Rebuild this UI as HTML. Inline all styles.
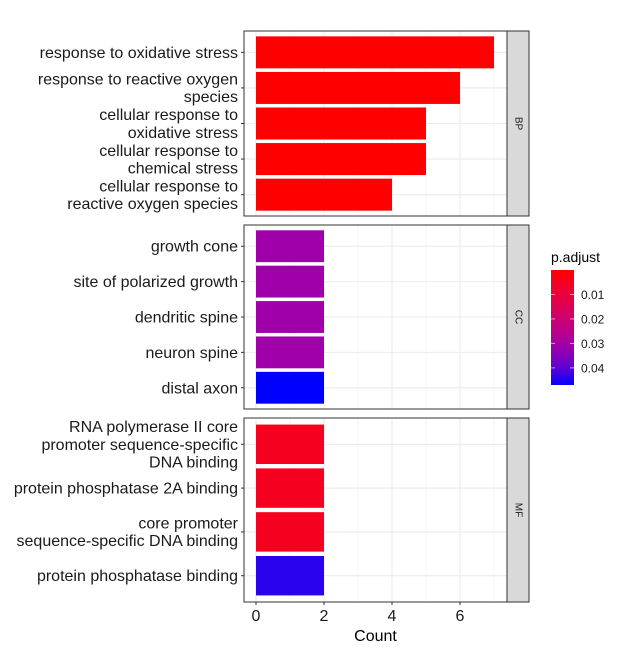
<!DOCTYPE html>
<html><head><meta charset="utf-8"><style>
body{margin:0;background:#fff}
svg{display:block;font-family:"Liberation Sans",sans-serif}
</style></head><body>
<svg id="chart" width="619" height="652"></svg>
<script>
const bpTerms=["response to oxidative stress","response to reactive oxygen|species","cellular response to|oxidative stress","cellular response to|chemical stress","cellular response to|reactive oxygen species"];
const bpCounts=[7,6,5,5,4];
const bpP=[0.0001,0.0001,0.0001,0.0001,0.0001];
const ccTerms=["growth cone","site of polarized growth","dendritic spine","neuron spine","distal axon"];
const ccCounts=[2,2,2,2,2];
const ccP=[0.031,0.031,0.031,0.031,0.047];
const mfTerms=["RNA polymerase II core|promoter sequence-specific|DNA binding","protein phosphatase 2A binding","core promoter|sequence-specific DNA binding","protein phosphatase binding"];
const mfCounts=[2,2,2,2];
const mfP=[0.005,0.005,0.005,0.044];
const xTicks=[0,2,4,6];
const legendTicks=[0.01,0.02,0.03,0.04];
const pMin=0.0, pMax=0.047;

const NS="http://www.w3.org/2000/svg";
const svg=document.getElementById('chart');
function el(tag,attrs,parent){const e=document.createElementNS(NS,tag);for(const k in attrs)e.setAttribute(k,attrs[k]);(parent||svg).appendChild(e);return e;}
const X0=244,X1=507;
const xScale=v=>256+v*34;
const stops=[[0,[255,0,0]],[0.21,[235,0,60]],[0.43,[205,0,112]],[0.64,[165,0,165]],[0.85,[100,0,210]],[1,[0,0,255]]];
function color(p){let t=(p-pMin)/(pMax-pMin);t=Math.max(0,Math.min(1,t));
 for(let i=1;i<stops.length;i++){if(t<=stops[i][0]){const a=stops[i-1],b=stops[i];const f=(t-a[0])/(b[0]-a[0]);
 const c=a[1].map((v,j)=>Math.round(v+(b[1][j]-v)*f));return `rgb(${c})`;}}return 'rgb(0,0,255)';}

const panels=[{name:"BP",terms:bpTerms,counts:bpCounts,p:bpP,y0:31,y1:216},
{name:"CC",terms:ccTerms,counts:ccCounts,p:ccP,y0:225,y1:409},
{name:"MF",terms:mfTerms,counts:mfCounts,p:mfP,y0:418,y1:602}];
panels.forEach(pn=>{
 const g=el('g',{});
 
 
 const n=pn.terms.length;const band=(pn.y1-pn.y0)/(n+0.2);
 const yc=i=>pn.y0+band*(0.6+i);
 el('rect',{x:X0,y:pn.y0,width:X1-X0,height:pn.y1-pn.y0,fill:'#fff'},g);
 for(let v=1;v<=7;v+=2)el('line',{x1:xScale(v),x2:xScale(v),y1:pn.y0,y2:pn.y1,stroke:'#f2f2f2','stroke-width':0.6},g);
 xTicks.forEach(v=>el('line',{x1:xScale(v),x2:xScale(v),y1:pn.y0,y2:pn.y1,stroke:'#ebebeb','stroke-width':1.1},g));
 for(let i=0;i<n;i++)el('line',{x1:X0,x2:X1,y1:yc(i),y2:yc(i),stroke:'#ebebeb','stroke-width':1.1},g);
 for(let i=0;i<n;i++){
  const b=el('rect',{x:xScale(0),y:yc(i)-band*0.45,width:xScale(pn.counts[i])-xScale(0),height:band*0.9,fill:color(pn.p[i])},g);
  
  
  el('line',{x1:X0-3,x2:X0,y1:yc(i),y2:yc(i),stroke:'#333','stroke-width':1},g);
  const lines=pn.terms[i].split('|');
  const t=el('text',{x:238,'text-anchor':'end','font-size':16,fill:'#1a1a1a'},g);
  
  
  const lh=17.6;const top=yc(i)-(lines.length-1)*lh/2+5.5;
  lines.forEach((l,k)=>{const s=el('tspan',{x:238,y:top+k*lh},t);s.textContent=l;});
 }
 el('rect',{x:X0,y:pn.y0,width:X1-X0,height:pn.y1-pn.y0,fill:'none',stroke:'#333','stroke-width':1},g);
 const st=el('rect',{x:X1,y:pn.y0,width:22,height:pn.y1-pn.y0,fill:'#d9d9d9',stroke:'#333','stroke-width':1},g);
 
 
 const my=(pn.y0+pn.y1)/2;
 const stt=el('text',{x:518,y:my,'text-anchor':'middle','font-size':10,fill:'#1a1a1a',transform:`rotate(90 518 ${my})`,'dominant-baseline':'central'},g);
 stt.textContent=pn.name;
 
 
});
xTicks.forEach(v=>{
 el('line',{x1:xScale(v),x2:xScale(v),y1:602,y2:605,stroke:'#333'});
 const t=el('text',{x:xScale(v),y:621,'text-anchor':'middle','font-size':16,fill:'#1a1a1a'});
 t.textContent=v;
 
 
});
const xt=el('text',{x:375.5,y:641,'text-anchor':'middle','font-size':16,fill:'#000'});
xt.textContent='Count';


// legend
const lg=el('g',{});


const lt=el('text',{x:551,y:262,'font-size':14,fill:'#000'},lg);lt.textContent='p.adjust';
const defs=el('defs',{},lg);const gr=el('linearGradient',{id:'gr',x1:0,y1:0,x2:0,y2:1},defs);
for(let i=0;i<=10;i++)el('stop',{offset:i/10,'stop-color':color(pMin+(pMax-pMin)*i/10)},gr);
const LY0=270,LY1=385;const ly=p=>LY0+(p-pMin)/(pMax-pMin)*(LY1-LY0);
const cb=el('rect',{x:551,y:LY0,width:23,height:LY1-LY0,fill:'url(#gr)'},lg);


legendTicks.forEach(v=>{
 el('line',{x1:551,x2:555,y1:ly(v),y2:ly(v),stroke:'#fff','stroke-opacity':0.6},lg);
 el('line',{x1:570,x2:574,y1:ly(v),y2:ly(v),stroke:'#fff','stroke-opacity':0.6},lg);
 const t=el('text',{x:581,y:ly(v)+4.5,'font-size':12,fill:'#1a1a1a'},lg);t.textContent=v.toFixed(2);
 
 
});
</script>
</body></html>
